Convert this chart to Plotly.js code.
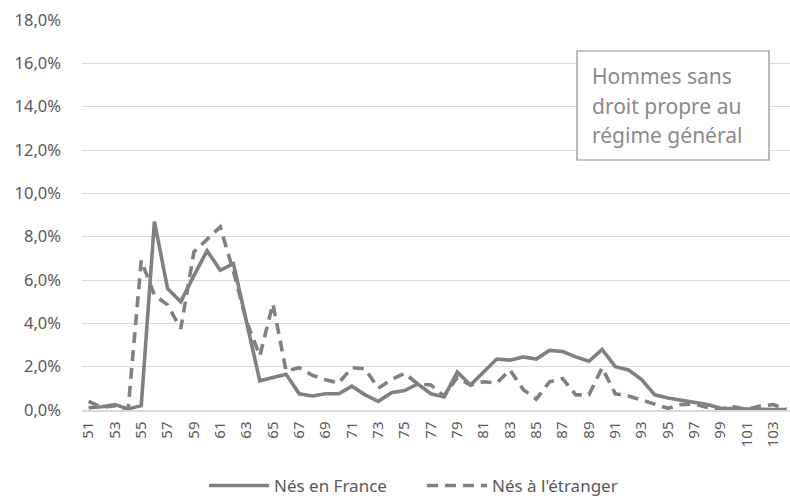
<!DOCTYPE html>
<html>
<head>
<meta charset="utf-8">
<script src="https://cdn.plot.ly/plotly-3.0.1.min.js"></script>
<style>
html,body{margin:0;padding:0;background:#fff;}
#chart{width:790px;height:496px;}
</style>
</head>
<body>
<div id="chart"></div>
<script>
var ages = [51,52,53,54,55,56,57,58,59,60,61,62,63,64,65,66,67,68,69,70,71,72,73,74,75,76,77,78,79,80,81,82,83,84,85,86,87,88,89,90,91,92,93,94,95,96,97,98,99,100,101,102,103,104];
var nesFrance = [0.10,0.15,0.25,0.05,0.20,8.70,5.60,5.00,6.20,7.35,6.45,6.75,4.05,1.35,1.50,1.65,0.75,0.65,0.75,0.75,1.10,0.70,0.40,0.80,0.90,1.20,0.75,0.60,1.75,1.15,1.75,2.35,2.30,2.45,2.35,2.75,2.70,2.45,2.25,2.80,2.00,1.85,1.40,0.70,0.55,0.45,0.35,0.25,0.08,0.05,0.03,0.03,0.02,0.02];
var nesEtranger = [0.40,0.12,0.20,0.03,6.90,5.30,4.85,3.75,7.30,7.85,8.45,6.40,4.10,2.50,4.90,1.80,1.95,1.60,1.40,1.25,1.95,1.90,1.00,1.40,1.70,1.20,1.15,0.65,1.50,1.15,1.30,1.25,1.85,0.95,0.50,1.30,1.45,0.70,0.70,1.95,0.75,0.65,0.45,0.25,0.08,0.25,0.28,0.12,0.05,0.15,0.03,0.18,0.25,0.03];
var yTicks = [0,2,4,6,8,10,12,14,16,18];
var xTicks = [51,53,55,57,59,61,63,65,67,69,71,73,75,77,79,81,83,85,87,89,91,93,95,97,99,101,103];
var seriesNames = ["Nés en France","Nés à l'étranger"];
var boxLines = ["Hommes sans","droit propre au","régime général"];

function pct(a){return a.map(function(v){return v/100;});}

var gray = "#808080";
var traces = [
  {x: ages, y: pct(nesFrance), type: "scatter", mode: "lines", name: seriesNames[0],
   line: {color: gray, width: 3.6}},
  {x: ages, y: pct(nesEtranger), type: "scatter", mode: "lines", name: seriesNames[1],
   line: {color: gray, width: 3.6, dash: "11px,7px"}}
];

var annotations = boxLines.map(function(t, i){
  return {xref: "paper", yref: "paper", x: (590-82)/708, y: (410-60-i*29.5)/390,
    xanchor: "left", yanchor: "top", showarrow: false, text: t, align: "left",
    font: {family: "Noto Sans, Open Sans, sans-serif", size: 21, color: "#8a8a8a"}};
});

var layout = {
  width: 790, height: 496,
  margin: {l: 82, r: 0, t: 20, b: 86},
  paper_bgcolor: "#fff", plot_bgcolor: "#fff",
  separators: ", ",
  font: {family: "Noto Sans, Open Sans, sans-serif", color: "#595959", size: 14},
  showlegend: true,
  legend: {orientation: "h", xref: "container", yref: "container", x: 204/790, y: 10/496,
    xanchor: "left", yanchor: "middle", font: {size: 17, color: "#595959"},
    itemwidth: 60, entrywidth: 143, entrywidthmode: "pixels", tracegroupgap: 0},
  xaxis: {range: [50.5, 104.27], tickmode: "array", tickvals: xTicks,
    ticktext: xTicks.map(String), tickangle: -90, showgrid: false, zeroline: false,
    showline: true, linecolor: "#d9d9d9", linewidth: 1.5, ticks: "", ticklabelstandoff: 4,
    tickfont: {size: 15, color: "#595959"}, fixedrange: true},
  yaxis: {range: [0, 0.18], tickmode: "array", tickvals: pct(yTicks), tickformat: ".1%",
    showgrid: true, gridcolor: "#d9d9d9", gridwidth: 1, zeroline: false, showline: false,
    ticks: "", ticklabelstandoff: 20, tickfont: {size: 16.5, color: "#595959"}, fixedrange: true},
  shapes: [{type: "rect", xref: "paper", yref: "paper",
    x0: (577-82)/708, x1: (769-82)/708, y0: (410-160)/390, y1: (410-51)/390,
    line: {color: "#8c8c8c", width: 1.2}, fillcolor: "rgba(255,255,255,1)", layer: "above"}],
  annotations: annotations
};

Plotly.newPlot("chart", traces, layout, {displayModeBar: false, staticPlot: true});
</script>
</body>
</html>
